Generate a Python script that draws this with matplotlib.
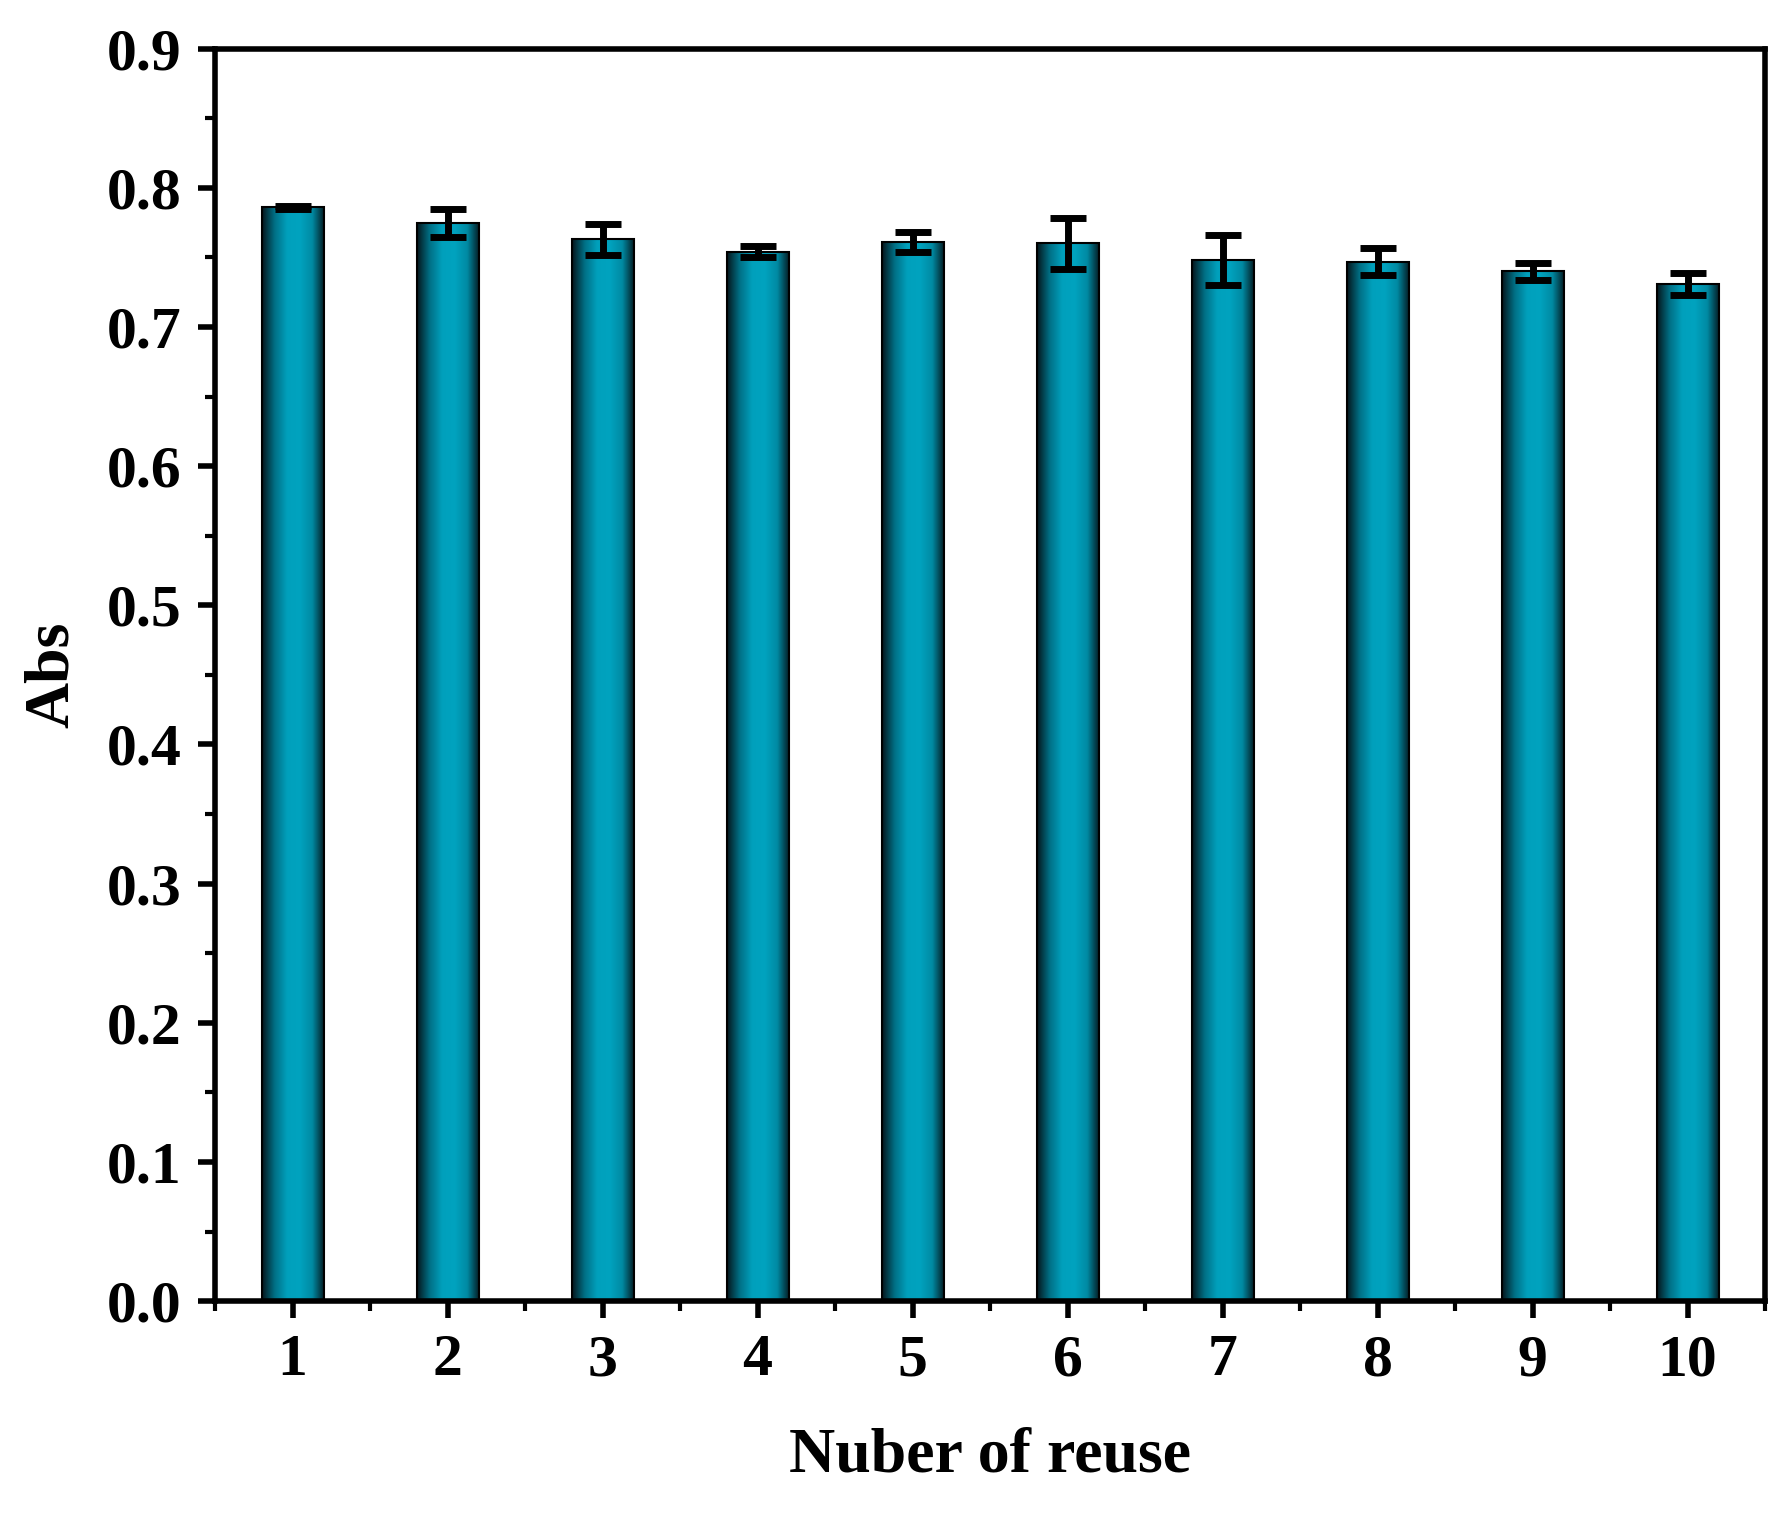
import numpy as np
import matplotlib
matplotlib.use("Agg")
import matplotlib.pyplot as plt
from matplotlib.colors import LinearSegmentedColormap
from matplotlib.patches import Rectangle
from matplotlib.ticker import MultipleLocator, FormatStrFormatter

cycles = [1, 2, 3, 4, 5, 6, 7, 8, 9, 10]
abs_vals = [0.786, 0.775, 0.763, 0.754, 0.761, 0.760, 0.748, 0.747, 0.740, 0.731]
errors = [0.001, 0.010, 0.011, 0.004, 0.007, 0.018, 0.018, 0.010, 0.006, 0.008]

plt.rcParams['font.family'] = ['Liberation Serif', 'DejaVu Serif']
plt.rcParams['font.weight'] = 'bold'

fig = plt.figure(figsize=(17.92, 15.2), dpi=100)
ax = fig.add_axes([0.12, 0.144, 0.865, 0.824])

cmap = LinearSegmentedColormap.from_list('g', ['#05161c', '#006f85', '#00a0bc', '#00a3bf', '#008aa3', '#05161c'])
grad = np.linspace(0, 1, 256).reshape(1, -1)
w = 0.4
for x, h in zip(cycles, abs_vals):
    ax.imshow(grad, extent=[x - w/2, x + w/2, 0, h], aspect='auto', cmap=cmap, zorder=2, interpolation='bicubic')
    ax.add_patch(Rectangle((x - w/2, 0), w, h, fill=False, edgecolor='black', linewidth=1.5, zorder=3))
ax.errorbar(cycles, abs_vals, yerr=errors, fmt='none', ecolor='black', elinewidth=5, capsize=13, capthick=5, zorder=4)

ax.set_xlim(0.5, 10.5)
ax.set_ylim(0, 0.9)
ax.set_xticks(cycles)
ax.xaxis.set_minor_locator(MultipleLocator(0.5))
ax.yaxis.set_major_locator(MultipleLocator(0.1))
ax.yaxis.set_minor_locator(MultipleLocator(0.05))
ax.yaxis.set_major_formatter(FormatStrFormatter('%.1f'))
ax.tick_params(which='major', direction='out', length=12, width=4, labelsize=43, pad=12)
ax.tick_params(which='minor', direction='out', length=7, width=3)
for s in ax.spines.values():
    s.set_linewidth(4)
ax.set_xlabel('Nuber of reuse', fontsize=46, fontweight='bold', labelpad=28)
ax.set_ylabel('Abs', fontsize=46, fontweight='bold', labelpad=18)
fig.savefig('out.png', dpi=100)
